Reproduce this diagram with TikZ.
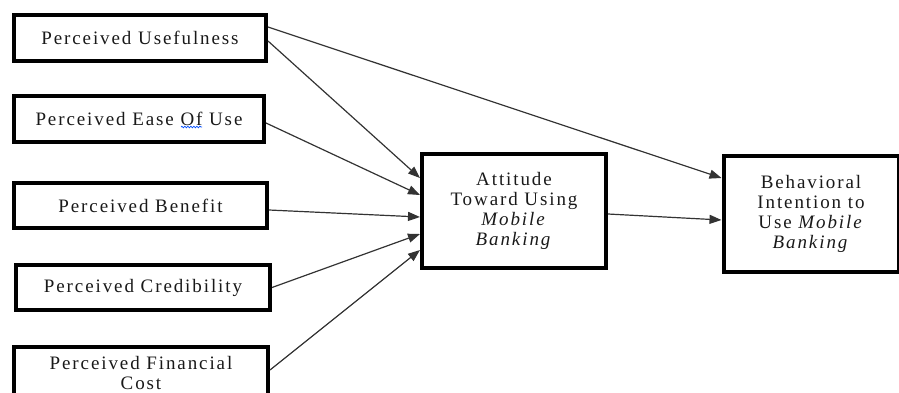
\documentclass[tikz,border=0pt]{standalone}
\usepackage{fontspec}
\setmainfont{Liberation Serif}[LetterSpace=10]
\usetikzlibrary{arrows.meta,decorations.pathmorphing}
\begin{document}
\begin{tikzpicture}[x=1pt,y=-1pt,
  box/.style={draw=black,line width=4pt,rectangle,inner sep=0pt,align=center,
    font=\fontsize{19}{20}\selectfont,text=black!90},
  arr/.style={draw=black!80,line width=1.2pt,-{Triangle[length=12pt,width=9pt]}},
  squig/.style={draw=blue!70!cyan,line width=0.7pt,decorate,
    decoration={snake,amplitude=0.8pt,segment length=3pt}}]
\useasboundingbox (0,0) rectangle (899,392);
\node[box,minimum width=252pt,minimum height=46pt] (pu) at (140,38) {Perceived Usefulness};
\node[box,minimum width=250pt,minimum height=46pt] (peou) at (139,119) {Perceived Ease Of Use};
\node[box,minimum width=253pt,minimum height=45pt] (pb) at (140.5,205.5) {Perceived Benefit};
\node[box,minimum width=254pt,minimum height=45pt] (pc) at (143,287.5) {Perceived Credibility};
\node[box,minimum width=254pt,minimum height=52pt] (pfc) at (141,373) {Perceived Financial\\Cost};
\node[box,minimum width=184pt,minimum height=114pt] (atu) at (514,211) {Attitude\\Toward Using\\\textit{Mobile}\\\textit{Banking}};
\node[box,minimum width=175pt,minimum height=116pt] (bi) at (811,214) {Behavioral\\Intention to\\Use \textit{Mobile}\\\textit{Banking}};
\draw[squig] (181,127) -- (202,127);
\draw[arr] ([yshift=11pt]pu.east) -- ([yshift=36pt]bi.west);
\draw[arr] ([yshift=-3pt]pu.east) -- ([yshift=33pt]atu.west);
\draw[arr] ([yshift=-4pt]peou.east) -- ([yshift=16pt]atu.west);
\draw[arr] ([yshift=-4.5pt]pb.east) -- ([yshift=-6pt]atu.west);
\draw[arr] (pc.east) -- ([yshift=-23pt]atu.west);
\draw[arr] ([yshift=3pt]pfc.east) -- ([yshift=-39pt]atu.west);
\draw[arr] ([yshift=-3pt]atu.east) -- ([yshift=-6pt]bi.west);
\end{tikzpicture}
\end{document}
